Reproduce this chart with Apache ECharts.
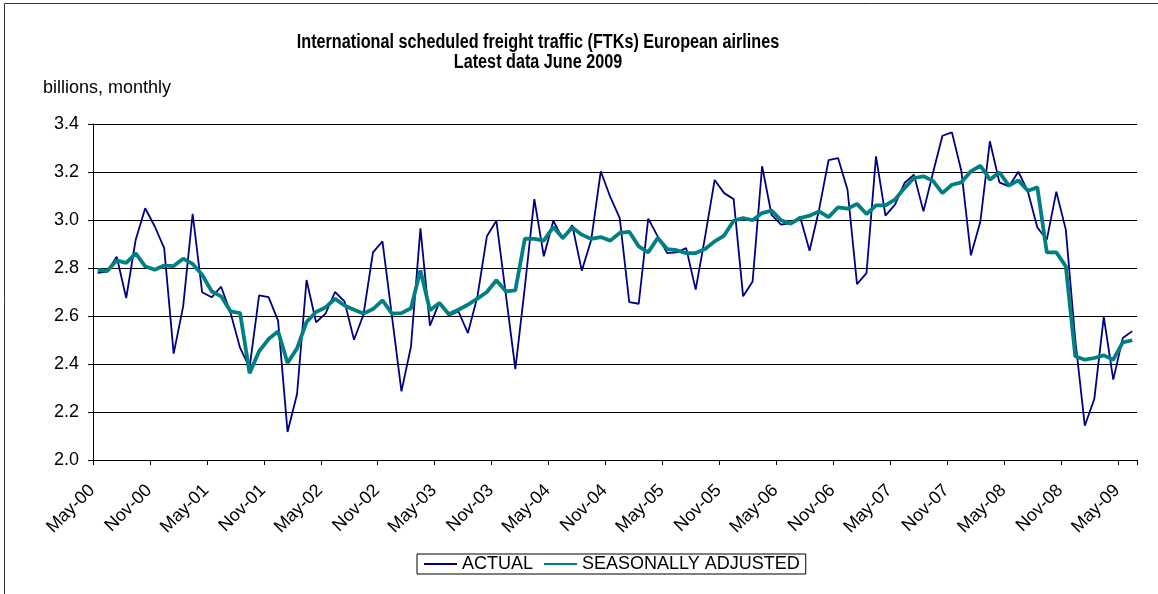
<!DOCTYPE html>
<html>
<head>
<meta charset="utf-8">
<script src="https://cdn.jsdelivr.net/npm/echarts@6/dist/echarts.min.js"></script>
<style>
  html, body { margin: 0; padding: 0; background: #fff; }
  #chart { width: 1158px; height: 594px; }
</style>
</head>
<body>
<div id="chart"></div>
<script>
// months May-2000 .. Jun-2009
const monthNames = ['Jan', 'Feb', 'Mar', 'Apr', 'May', 'Jun', 'Jul', 'Aug', 'Sep', 'Oct', 'Nov', 'Dec']
const startYear = 2000
const startMonth = 4 // May
const monthCount = 110

const categories = []
for (let i = 0; i < monthCount; i++) {
  const m = (startMonth + i) % 12
  const y = startYear + Math.floor((startMonth + i) / 12)
  categories.push(monthNames[m] + '-' + String(y % 100).padStart(2, '0'))
}

const actual = [
  2.780, 2.785, 2.847, 2.675, 2.918, 3.049, 2.974, 2.883, 2.443, 2.640,
  3.026, 2.699, 2.678, 2.722, 2.612, 2.467, 2.385, 2.686, 2.679, 2.581,
  2.117, 2.275, 2.750, 2.574, 2.610, 2.700, 2.661, 2.501, 2.606, 2.865,
  2.911, 2.598, 2.286, 2.472, 2.965, 2.560, 2.657, 2.601, 2.619, 2.529,
  2.680, 2.932, 2.997, 2.689, 2.379, 2.720, 3.087, 2.849, 2.997, 2.921,
  2.978, 2.789, 2.918, 3.203, 3.096, 3.008, 2.658, 2.651, 3.006, 2.932,
  2.862, 2.865, 2.883, 2.710, 2.932, 3.167, 3.112, 3.087, 2.682, 2.744,
  3.224, 3.021, 2.981, 2.987, 3.014, 2.872, 3.043, 3.249, 3.258, 3.126,
  2.733, 2.779, 3.265, 3.018, 3.064, 3.154, 3.189, 3.036, 3.196, 3.351,
  3.365, 3.203, 2.853, 2.994, 3.328, 3.157, 3.140, 3.201, 3.119, 2.969,
  2.918, 3.118, 2.960, 2.500, 2.143, 2.254, 2.596, 2.335, 2.508, 2.537
]

const seasonallyAdjusted = [
  2.792, 2.787, 2.832, 2.821, 2.861, 2.807, 2.793, 2.810, 2.808, 2.839,
  2.817, 2.772, 2.703, 2.682, 2.619, 2.612, 2.362, 2.453, 2.504, 2.536,
  2.404, 2.465, 2.575, 2.617, 2.636, 2.672, 2.644, 2.626, 2.610, 2.629,
  2.665, 2.610, 2.612, 2.632, 2.790, 2.624, 2.654, 2.607, 2.626, 2.647,
  2.672, 2.700, 2.749, 2.703, 2.707, 2.922, 2.921, 2.914, 2.971, 2.925,
  2.969, 2.939, 2.921, 2.929, 2.914, 2.946, 2.951, 2.890, 2.865, 2.925,
  2.879, 2.874, 2.862, 2.862, 2.879, 2.911, 2.935, 2.997, 3.008, 2.999,
  3.029, 3.039, 2.999, 2.985, 3.008, 3.018, 3.036, 3.012, 3.053, 3.047,
  3.067, 3.025, 3.061, 3.061, 3.085, 3.133, 3.175, 3.182, 3.163, 3.112,
  3.147, 3.157, 3.203, 3.226, 3.168, 3.199, 3.143, 3.165, 3.122, 3.136,
  2.865, 2.865, 2.807, 2.432, 2.418, 2.425, 2.436, 2.418, 2.490, 2.499
]

const yMin = 2.0
const yMax = 3.4
const yStep = 0.2

const font = '"Liberation Sans", Arial, sans-serif'

const chart = echarts.init(document.getElementById('chart'))

const option = {
  animation: false,
  backgroundColor: '#fff',
  title: {
    text: 'billions, monthly',
    left: 43,
    top: 79,
    padding: 0,
    textStyle: {
      fontFamily: font,
      fontWeight: 'normal',
      fontSize: 18,
      lineHeight: 18,
      color: '#000'
    }
  },
  graphic: [
    {
      type: 'rect',
      shape: { x: 4.5, y: 3.5, width: 1300, height: 800 },
      style: { fill: 'none', stroke: '#333', lineWidth: 1 },
      silent: true
    },
    {
      // narrow bold title (Arial Narrow look)
      type: 'text',
      x: 538,
      y: 32,
      scaleX: 0.81,
      silent: true,
      style: {
        text: 'International scheduled freight traffic (FTKs) European airlines\nLatest data June 2009',
        font: 'bold 20px "Liberation Sans", Arial, sans-serif',
        lineHeight: 20,
        align: 'center',
        verticalAlign: 'top',
        fill: '#000'
      }
    }
  ],
  legend: {
    left: 417,
    top: 554,
    padding: [1, 6, 1, 6],
    borderColor: '#000',
    borderWidth: 1,
    borderRadius: 0,
    itemWidth: 33,
    itemHeight: 14,
    itemGap: 10,
    itemStyle: { opacity: 0 },
    textStyle: {
      fontFamily: font,
      fontSize: 18,
      color: '#000'
    },
    data: ['ACTUAL', 'SEASONALLY ADJUSTED']
  },
  grid: {
    left: 93,
    right: 21,
    top: 124,
    bottom: 134,
    containLabel: false
  },
  xAxis: {
    type: 'category',
    data: categories,
    boundaryGap: true,
    axisLine: { lineStyle: { color: '#000', width: 1 } },
    axisTick: { show: true, interval: 5, length: 5, lineStyle: { color: '#000' } },
    axisLabel: {
      interval: 5,
      rotate: 45,
      margin: 22,
      padding: [0, 8, 0, 0],
      color: '#000',
      fontFamily: font,
      fontSize: 18
    },
    splitLine: { show: false }
  },
  yAxis: {
    type: 'value',
    min: yMin,
    max: yMax,
    interval: yStep,
    axisLine: { show: true, lineStyle: { color: '#000', width: 1 } },
    axisTick: { show: true, length: 5, lineStyle: { color: '#000' } },
    axisLabel: {
      margin: 14,
      color: '#000',
      fontFamily: font,
      fontSize: 18,
      formatter: (v) => v.toFixed(1)
    },
    splitLine: { lineStyle: { color: '#000', width: 1 } }
  },
  series: [
    {
      name: 'ACTUAL',
      type: 'line',
      data: actual,
      symbol: 'none',
      lineStyle: { color: '#000080', width: 1.8 },
      itemStyle: { color: '#000080' }
    },
    {
      name: 'SEASONALLY ADJUSTED',
      type: 'line',
      data: seasonallyAdjusted,
      symbol: 'none',
      lineStyle: { color: '#008080', width: 3.8 },
      itemStyle: { color: '#008080' }
    }
  ]
}

chart.setOption(option)
</script>
</body>
</html>
